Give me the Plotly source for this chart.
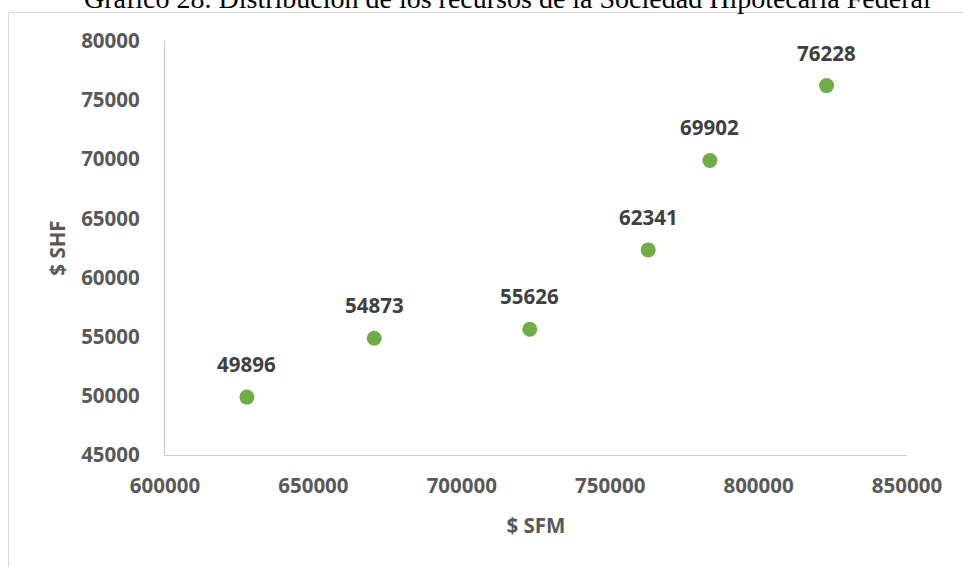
import plotly.graph_objects as go

# Recursos: SFM (eje x) contra SHF (eje y)
sfm = [627600, 670500, 722900, 762800, 783600, 822900]
shf = [49896, 54873, 55626, 62341, 69902, 76228]
shf_labels = [str(v) for v in shf]

x_ticks = [600000, 650000, 700000, 750000, 800000, 850000]
y_ticks = [45000, 50000, 55000, 60000, 65000, 70000, 75000, 80000]

title_text = "Gráfico 28. Distribución de los recursos de la Sociedad Hipotecaria Federal"

W, H = 963, 567
L, R, T, B = 165, 56, 41, 112
pw, ph = W - L - R, H - T - B

font_family = "Open Sans"
font_size = 20.5
tick_color = "#595959"
label_color = "#404040"
axis_color = "#c9c9c9"

fig = go.Figure()
fig.add_trace(go.Scatter(
    x=sfm, y=shf, mode="markers",
    marker=dict(size=15, color="#70AD47"),
    hoverinfo="x+y", showlegend=False,
))

annotations = []
for xv, yv, txt in zip(sfm, shf, shf_labels):
    annotations.append(dict(
        x=xv, y=yv, xref="x", yref="y", text=f"<b>{txt}</b>",
        showarrow=False, xanchor="center", yanchor="bottom", yshift=17,
        font=dict(family=font_family, size=font_size, color=label_color),
    ))

# Conversión de píxeles de la página a coordenadas "paper"
px2x = lambda px: (px - L) / pw
py2y = lambda py: (H - B - py) / ph

# Título del documento, recortado por el borde superior
annotations.append(dict(
    x=px2x(507), y=py2y(16), xref="paper", yref="paper",
    text=title_text, showarrow=False, xanchor="center", yanchor="bottom",
    font=dict(family="Liberation Serif", size=28, color="#000000"),
))

# Borde del área del gráfico (izquierda y arriba)
shapes = [
    dict(type="line", xref="paper", yref="paper",
         x0=px2x(8.5), x1=px2x(8.5), y0=py2y(12.5), y1=py2y(H + 5),
         line=dict(color="#d9d9d9", width=1)),
    dict(type="line", xref="paper", yref="paper",
         x0=px2x(8.5), x1=px2x(W + 5), y0=py2y(12.5), y1=py2y(12.5),
         line=dict(color="#d9d9d9", width=1)),
]

fig.update_layout(
    width=W, height=H,
    margin=dict(l=L, r=R, t=T, b=B),
    paper_bgcolor="white", plot_bgcolor="white",
    annotations=annotations, shapes=shapes,
    xaxis=dict(
        range=[600000, 850000], tickvals=x_ticks,
        ticktext=[f"<b>{v}</b>" for v in x_ticks],
        showgrid=False, zeroline=False, showline=True,
        linecolor=axis_color, linewidth=1.3, ticks="",
        ticklabelstandoff=12,
        tickfont=dict(family=font_family, size=font_size, color=tick_color),
        title=dict(text="<b>$ SFM</b>", standoff=20,
                   font=dict(family=font_family, size=font_size, color=tick_color)),
    ),
    yaxis=dict(
        range=[45000, 80000], tickvals=y_ticks,
        ticktext=[f"<b>{v}</b>" for v in y_ticks],
        showgrid=False, zeroline=False, showline=True,
        linecolor=axis_color, linewidth=1.3, ticks="",
        ticklabelstandoff=20,
        tickfont=dict(family=font_family, size=font_size, color=tick_color),
        title=dict(text="<b>$ SHF</b>", standoff=9,
                   font=dict(family=font_family, size=font_size, color=tick_color)),
    ),
)

fig.write_html("out.html")
